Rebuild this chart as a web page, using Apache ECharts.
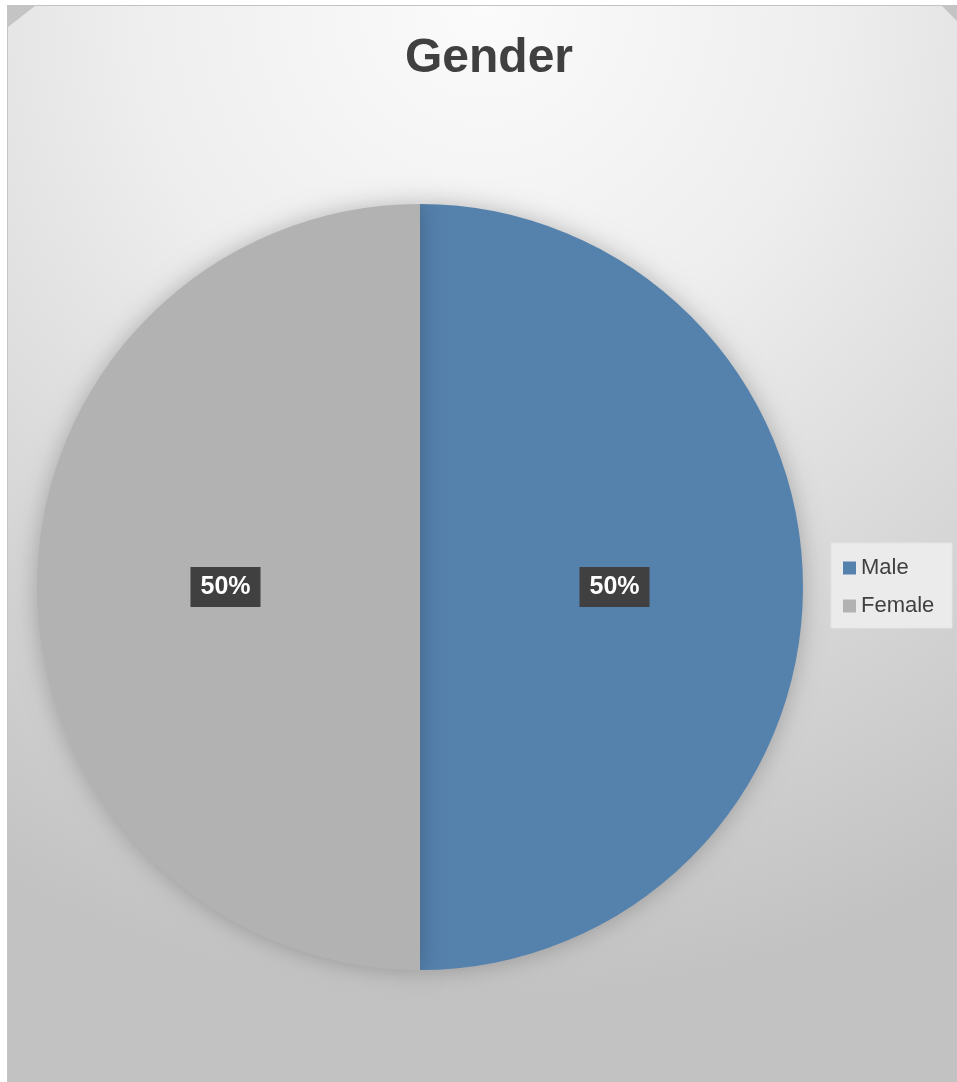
<!DOCTYPE html>
<html>
<head>
<meta charset="utf-8">
<script src="https://cdn.jsdelivr.net/npm/echarts@6/dist/echarts.min.js"></script>
<style>
  html, body { margin: 0; padding: 0; background: #ffffff; }
  #chart { width: 957px; height: 1082px; }
</style>
</head>
<body>
<div id="chart"></div>
<script>
// Gender split
const categories = ['Male', 'Female'];
const values = [50, 50];
const colors = ['#5581ad', '#b2b2b2'];

const chart = echarts.init(document.getElementById('chart'), null, { renderer: 'canvas' });

const H = 1082;
const L = 8, T = 6, R = 957; // frame edges

chart.setOption({
  animation: false,
  graphic: [
    {
      // outer frame, its grey shows at the clipped corners
      type: 'rect',
      z: -20,
      shape: { x: L - 1, y: T - 1, width: R - L + 1, height: H - T + 1 },
      style: { fill: '#c4c4c4' }
    },
    {
      type: 'polygon',
      z: -10,
      shape: {
        points: [[L, T + 21], [L + 27, T], [R - 15, T], [R, T + 15], [R, H], [L, H]]
      },
      style: {
        fill: new echarts.graphic.RadialGradient(0.5, 0.0, 1.05, [
          { offset: 0, color: '#fbfbfb' },
          { offset: 0.35, color: '#eeeeee' },
          { offset: 1, color: '#c2c2c2' }
        ])
      }
    },
    {
      type: 'rect',
      z: -5,
      shape: { x: 831, y: 543, width: 121, height: 85 },
      style: { fill: '#ebebeb', stroke: '#e4e4e4', lineWidth: 1 }
    }
  ],
  title: {
    text: 'Gender',
    left: 484,
    top: 30,
    textAlign: 'center',
    textStyle: {
      fontFamily: 'Liberation Sans, Arial, sans-serif',
      fontSize: 48,
      fontWeight: 'bold',
      color: '#404040'
    }
  },
  legend: {
    orient: 'vertical',
    left: 838,
    top: 552,
    itemWidth: 13,
    itemHeight: 13,
    itemGap: 16,
    icon: 'rect',
    textStyle: {
      fontFamily: 'Liberation Sans, Arial, sans-serif',
      fontSize: 22,
      color: '#404040'
    },
    data: categories
  },
  series: [{
    type: 'pie',
    center: [420, 587],
    radius: [0, 383],
    startAngle: 90,
    clockwise: true,
    color: colors,
    itemStyle: {
      shadowBlur: 24,
      shadowColor: 'rgba(0,0,0,0.25)'
    },
    label: {
      show: true,
      position: 'inside',
      formatter: '{d}%',
      fontFamily: 'Liberation Sans, Arial, sans-serif',
      fontSize: 25,
      fontWeight: 'bold',
      color: '#ffffff',
      backgroundColor: '#404040',
      padding: [8, 10, 7, 10]
    },
    labelLine: { show: false },
    emphasis: { disabled: true },
    data: categories.map((name, i) => ({ name: name, value: values[i] }))
  }]
});
</script>
</body>
</html>
